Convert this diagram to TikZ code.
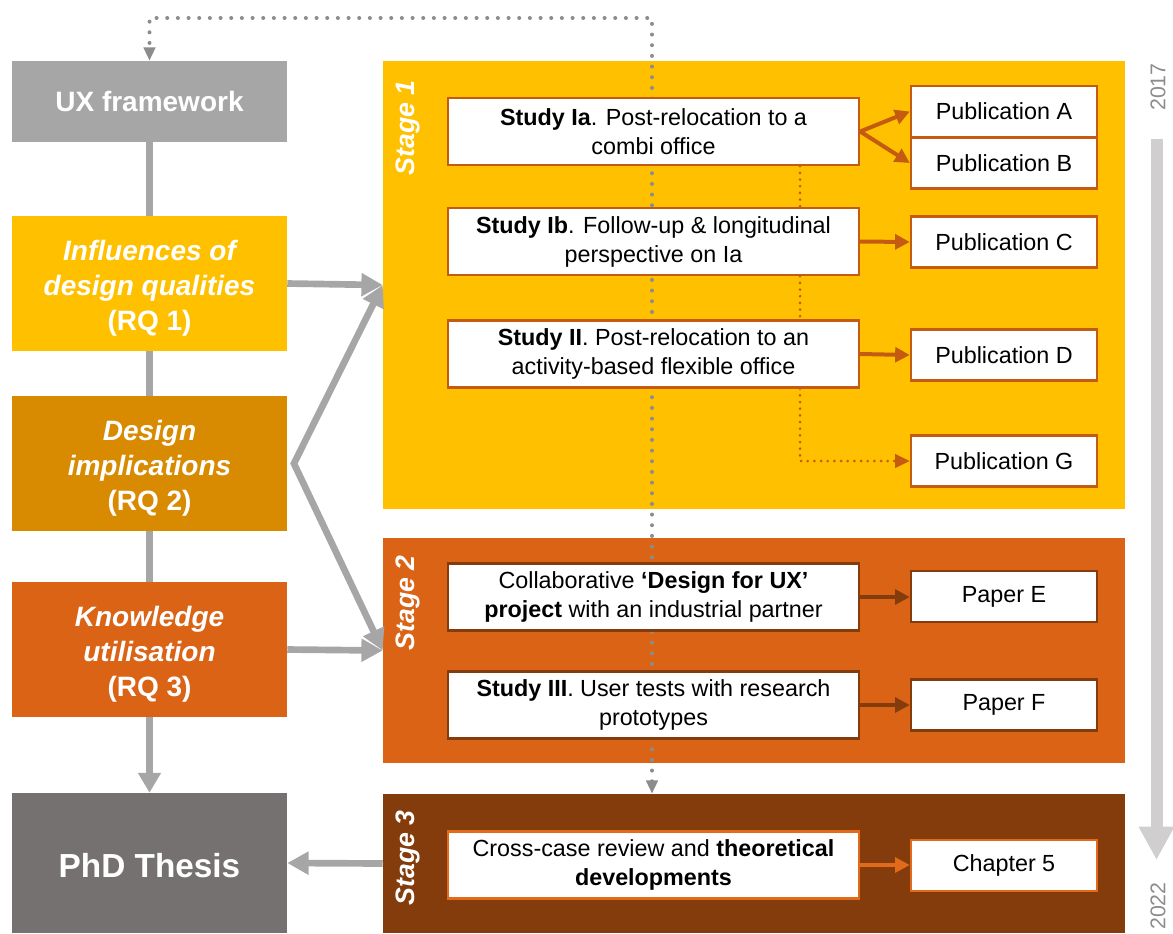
\documentclass[tikz,border=0pt]{standalone}
\usepackage{fontspec}
\setmainfont{Liberation Sans}
\usetikzlibrary{arrows.meta}

\definecolor{amber}{HTML}{FFC000}
\definecolor{ochre}{HTML}{D88A00}
\definecolor{rust}{HTML}{DA6316}
\definecolor{stagethree}{HTML}{843C0C}
\definecolor{burnt}{HTML}{C55A11}
\definecolor{brightorange}{HTML}{E26B1B}
\definecolor{uxgray}{HTML}{A6A6A6}
\definecolor{thesisgray}{HTML}{767171}
\definecolor{dotgray}{HTML}{8C8C8C}
\definecolor{timegray}{HTML}{D0CECE}
\definecolor{yeargray}{HTML}{8C8C8C}

\pgfdeclarelayer{panels}
\pgfdeclarelayer{links}
\pgfsetlayers{panels,links,main}

% strut that lowers a centred block of lines a little
\newcommand{\toppad}{\rule{0pt}{22pt}}

\begin{document}
\begin{tikzpicture}[x=0.75pt, y=-0.75pt,
  leftbox/.style={minimum width=206.25pt, inner sep=0pt, align=center, text=white,
    font=\fontsize{21}{26.25}\selectfont\bfseries},
  panel/.style={minimum width=556.5pt, inner sep=0pt},
  stagelabel/.style={rotate=90, anchor=east, inner sep=0pt, text=white,
    font=\fontsize{20}{24}\selectfont\bfseries\itshape},
  studybox/.style={draw=#1, fill=white, line width=1.8pt, minimum width=308.25pt,
    minimum height=50.25pt, inner sep=0pt, align=center,
    font=\fontsize{17.5}{21.75}\selectfont},
  pubbox/.style={draw=#1, fill=white, line width=1.8pt, minimum width=139.5pt,
    minimum height=38.5pt, inner sep=0pt, font=\fontsize{17.5}{21.75}\selectfont},
  flow/.style={draw=#1, line width=3pt, -{Triangle[length=11pt,width=11pt]}},
  orangedots/.style={draw=burnt, line width=2.2pt, line cap=round,
    dash pattern=on 0pt off 5pt},
  graydots/.style={draw=dotgray, line width=3pt, line cap=round,
    dash pattern=on 0pt off 8pt},
  grayarrow/.style={draw=uxgray, line width=5pt, -{Triangle[length=16pt,width=16.5pt]}},
  yearlabel/.style={rotate=90, anchor=east, inner sep=0pt, text=yeargray,
    font=\fontsize{16}{16}\selectfont}
]
\useasboundingbox (0,0) rectangle (1173,933);

% left column
\node[leftbox, fill=uxgray, minimum height=60.75pt] (ux) at (149.5,101.5) {UX framework};
\node[leftbox, fill=amber, minimum height=101.25pt] (rq1) at (149.5,283.5)
  {{\toppad\itshape Influences of}\\{\itshape design qualities}\\(RQ 1)};
\node[leftbox, fill=ochre, minimum height=101.25pt] (rq2) at (149.5,463.5)
  {{\toppad\itshape Design}\\{\itshape implications}\\(RQ 2)};
\node[leftbox, fill=rust, minimum height=101.25pt] (rq3) at (149.5,649.5)
  {{\toppad\itshape Knowledge}\\{\itshape utilisation}\\(RQ 3)};
\node[leftbox, fill=thesisgray, minimum height=105pt,
  font=\fontsize{25}{30}\selectfont\bfseries] (phd) at (149.5,863) {\rule{0pt}{22pt}PhD Thesis};

% stage panels
\begin{pgfonlayer}{panels}
\node[panel, fill=amber, minimum height=336pt] (s1) at (754,285) {};
\node[panel, fill=rust, minimum height=168.75pt] (s2) at (754,650.5) {};
\node[panel, fill=stagethree, minimum height=104.25pt] (s3) at (754,863.5) {};
\end{pgfonlayer}

\node[stagelabel] (l1) at (408,80) {Stage 1};
\node[stagelabel] (l2) at (408,555) {Stage 2};
\node[stagelabel] (l3) at (408,810) {Stage 3};

% studies
\node[studybox=burnt] (ia) at (653.5,131.5) {\textbf{Study Ia}. Post-relocation to a\\combi office};
\node[studybox=burnt] (ib) at (653.5,241.5) {\textbf{Study Ib}. Follow-up \& longitudinal\\perspective on Ia};
\node[studybox=burnt] (ii) at (653.5,354) {\textbf{Study II}. Post-relocation to an\\activity-based flexible office};
\node[studybox=stagethree] (col) at (653.5,597) {Collaborative \textbf{‘Design for UX’}\\\textbf{project} with an industrial partner};
\node[studybox=stagethree] (iii) at (653.5,705) {\textbf{Study III}. User tests with research\\prototypes};
\node[studybox=brightorange] (cc) at (653.5,865) {Cross-case review and \textbf{theoretical}\\\textbf{developments}};

% outputs
\node[pubbox=burnt] (pa) at (1004,111.5) {Publication A};
\node[pubbox=burnt] (pb) at (1004,163) {Publication B};
\node[pubbox=burnt] (pc) at (1004,242) {Publication C};
\node[pubbox=burnt] (pd) at (1004,355) {Publication D};
\node[pubbox=burnt] (pg) at (1004,461) {Publication G};
\node[pubbox=stagethree] (pe) at (1004,596.5) {Paper E};
\node[pubbox=stagethree] (pf) at (1004,705) {Paper F};
\node[pubbox=brightorange] (ch5) at (1004,865.5) {Chapter 5};

% study-to-output arrows
\draw[flow=burnt] (ia.east) -- (pa.west);
\draw[flow=burnt] (ia.east) -- (pb.west);
\draw[flow=burnt] (ib.east) -- (pc.west);
\draw[flow=burnt] (ii.east) -- (pd.west);
\draw[flow=stagethree] (col.east) -- (col.east -| pe.west);
\draw[flow=stagethree] (iii.east) -- (pf.west);
\draw[flow=brightorange] (cc.east) -- (cc.east -| ch5.west);

% dotted links
\coordinate (dotx) at (800,0);
\coordinate (loop) at (652,18);
\begin{pgfonlayer}{links}
\draw[orangedots] (ia.south -| dotx) -- (ib.north -| dotx);
\draw[orangedots] (ib.south -| dotx) -- (ii.north -| dotx);
\draw[orangedots, -{Triangle[length=11pt,width=10pt]}] (ii.south -| dotx) -- (pg.west -| dotx) -- (pg.west);
\draw[graydots, {Triangle[length=10pt,width=8.5pt]}-{Triangle[length=10pt,width=8.5pt]}]
  (s3.north -| loop) -- (loop) -- (loop -| ux.north) -- (ux.north);
\draw[draw=uxgray, line width=5.5pt, -{Triangle[length=15pt,width=16.5pt]}] (ux.south) -- (phd.north);
\end{pgfonlayer}

% framework-to-stage arrows
\draw[grayarrow] (rq1.east) -- (s1.west);
\draw[draw=uxgray, line width=5pt, line join=miter,
  {Triangle[length=16pt,width=16.5pt]}-{Triangle[length=16pt,width=16.5pt]}]
  (s1.west) -- ([xshift=5pt]rq2.east) -- (s2.west);
\draw[grayarrow] (rq3.east) -- (s2.west);
\draw[grayarrow] (s3.west) -- (phd.east);

% timeline
\coordinate (tstart) at (1156.5,139);
\coordinate (tend) at (1156.5,860);
\draw[draw=timegray, line width=9pt, -{Triangle[length=25pt,width=25pt]}] (tstart) -- (tend);
\node[yearlabel] (y1) at (1158,63) {2017};
\node[yearlabel] (y2) at (1158,882) {2022};
\end{tikzpicture}
\end{document}
